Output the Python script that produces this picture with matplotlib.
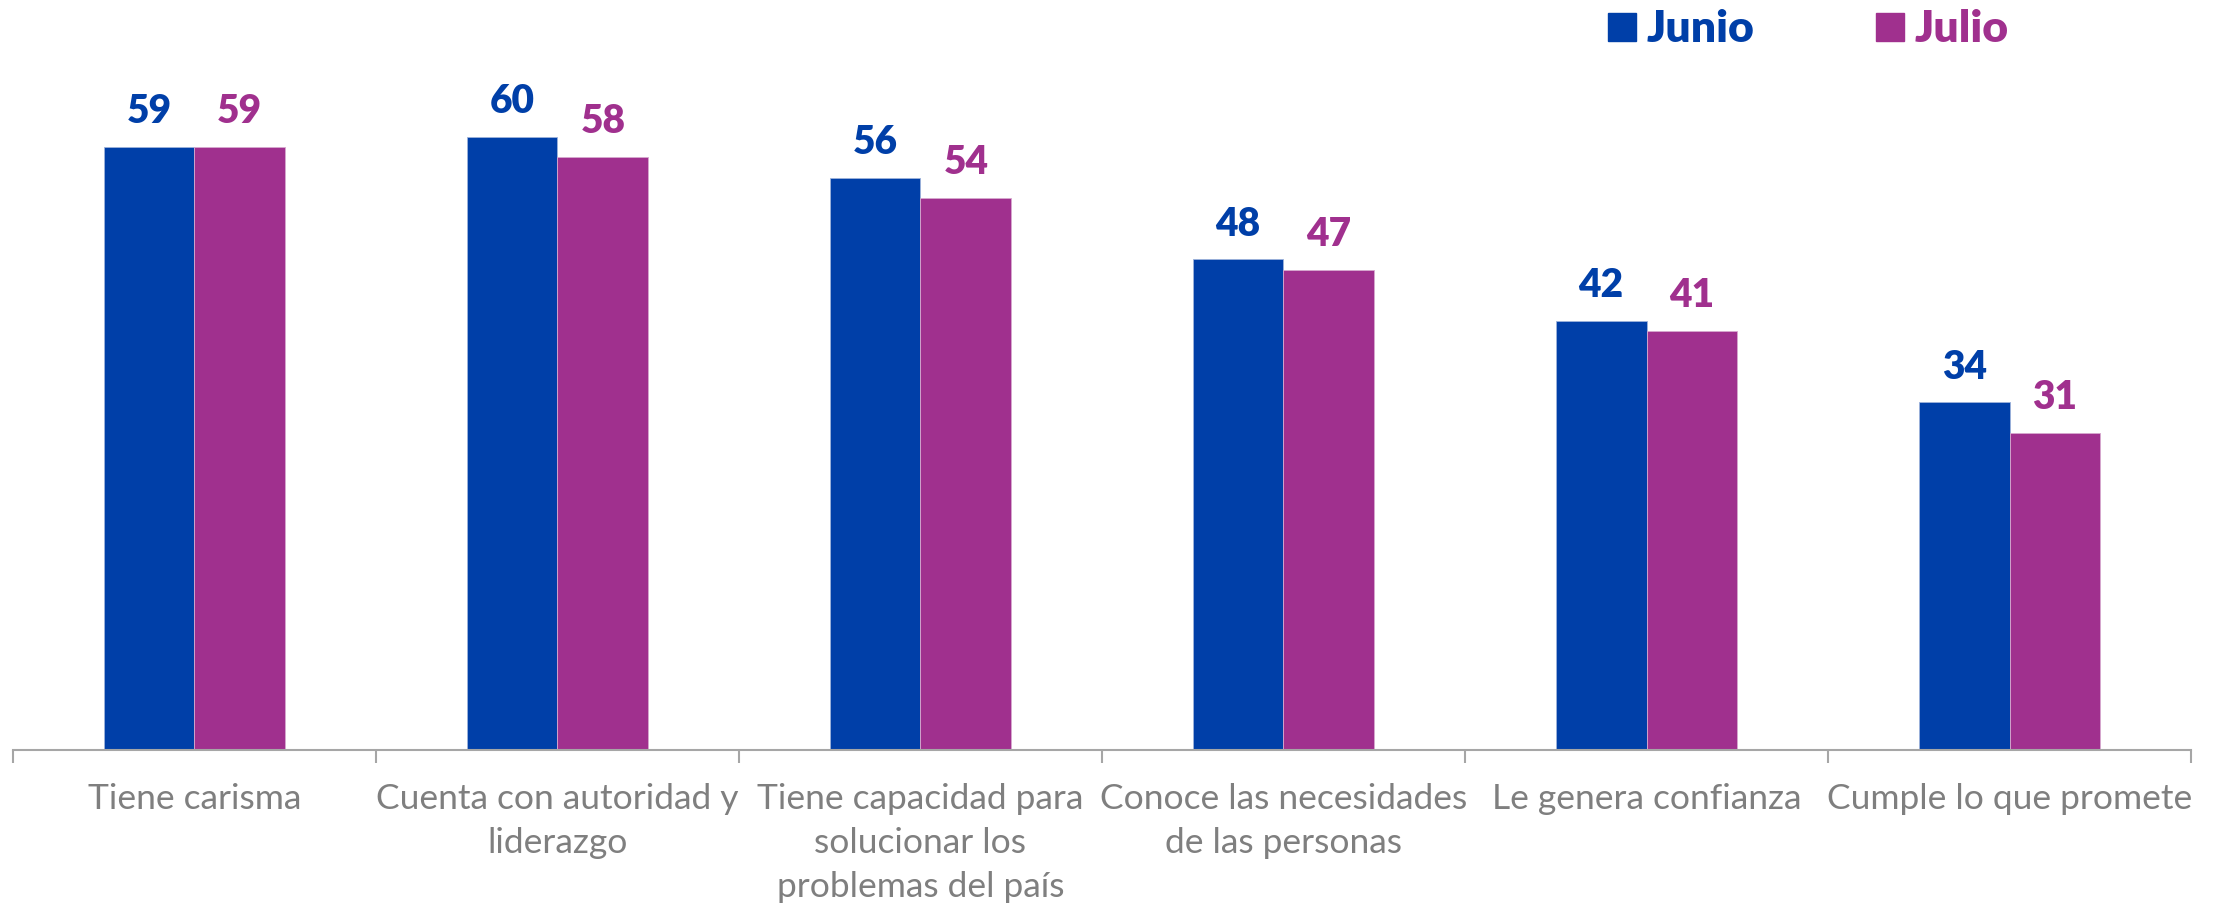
import matplotlib.pyplot as plt
from matplotlib.lines import Line2D
import numpy as np

# datos
categorias = ['Tiene carisma',
              'Cuenta con autoridad y\nliderazgo',
              'Tiene capacidad para\nsolucionar los\nproblemas del país',
              'Conoce las necesidades\nde las personas',
              'Le genera confianza',
              'Cumple lo que promete']
junio = [59, 60, 56, 48, 42, 34]
julio = [59, 58, 54, 47, 41, 31]
series = ['Junio', 'Julio']

AZUL = '#003FA8'
MORADO = '#A0308E'
GRIS = '#7F7F7F'

plt.rcParams['font.family'] = ['Lato', 'DejaVu Sans']

fig = plt.figure(figsize=(22.26, 9.08), dpi=100)
ax = fig.add_axes([0.0058, 0.174, 0.9785, 0.788])

x = np.arange(len(categorias))
w = 0.25
b1 = ax.bar(x - w / 2, junio, w, color=AZUL, edgecolor='#9DB3DB', linewidth=0.6)
b2 = ax.bar(x + w / 2, julio, w, color=MORADO, edgecolor='#D7A9CF', linewidth=0.6)

for bars, vals, col in ((b1, junio, AZUL), (b2, julio, MORADO)):
    for r, v in zip(bars, vals):
        ax.annotate(str(v), (r.get_x() + r.get_width() / 2, r.get_height()),
                    xytext=(0, 12), textcoords='offset points',
                    ha='center', va='bottom', fontsize=28, fontweight='heavy', color=col)

ax.set_xlim(-0.5, len(categorias) - 0.5)
ax.set_ylim(0, 70)
ax.set_yticks([])
for s in ('top', 'right', 'left'):
    ax.spines[s].set_visible(False)
ax.spines['bottom'].set_color('#A6A6A6')
ax.spines['bottom'].set_linewidth(1.5)

ax.set_xticks(x)
ax.set_xticklabels(categorias, fontsize=25.5, color=GRIS, linespacing=1.45)
ax.tick_params(axis='x', which='major', length=0, pad=24)
ax.set_xticks(np.arange(-0.5, len(categorias)), minor=True)
ax.tick_params(axis='x', which='minor', length=9, width=1.5, color='#A6A6A6')

handles = [Line2D([], [], marker='s', linestyle='', markersize=20, color=AZUL),
           Line2D([], [], marker='s', linestyle='', markersize=20, color=MORADO)]
leg = fig.legend(handles, series, loc='center', bbox_to_anchor=(0.811, 0.968),
                 ncol=2, frameon=False, handletextpad=0.1,
                 columnspacing=2.6, handlelength=0.9,
                 prop={'weight': 'heavy', 'size': 32})
for t, c in zip(leg.get_texts(), (AZUL, MORADO)):
    t.set_color(c)

fig.savefig('out.png', dpi=100)
